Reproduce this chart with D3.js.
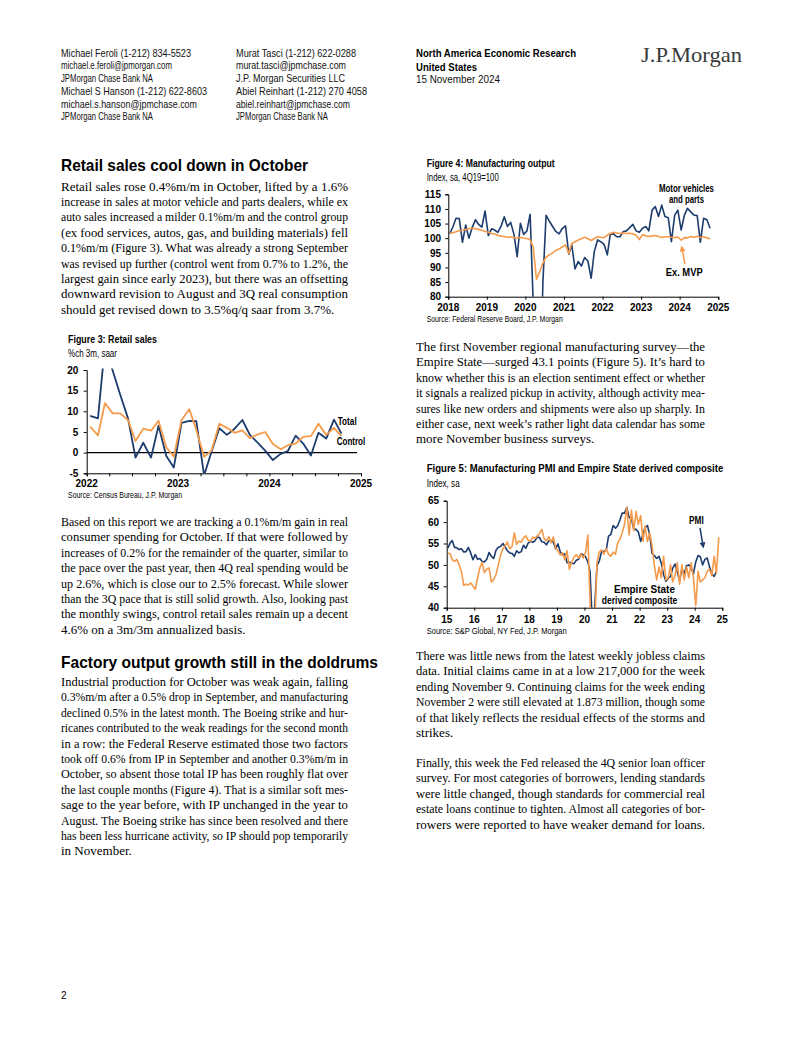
<!DOCTYPE html>
<html><head><meta charset="utf-8">
<script src="https://cdn.jsdelivr.net/npm/d3@7"></script>
<style>html,body{margin:0;padding:0;background:#fff}svg{display:block}</style>
</head><body>
<svg id="page" width="802" height="1037"></svg>
<script>
// ---------------- DATA ----------------
// Figure 3: Retail sales, %ch 3m saar, monthly from Jan 2022
const retailStart = [2022, 0];
const retailTotal = [8.9, 8.3, 26.0, 19.8, 14.0, 8.3, -1.2, 2.4, -1.2, 6.5, -0.8, -3.6,
  7.2, 7.7, 7.6, -5.5, 0.3, 5.9, 4.3, 5.8, 7.9, 4.3, 2.4, 0.5,
  -1.8, -0.3, 0.4, 4.1, 2.2, -0.7, 4.8, 3.4, 8.0, 4.6];
const retailControl = [6.3, 4.2, 12.0, 9.5, 9.5, 7.9, 2.8, 5.8, 5.3, 7.7, 1.3, -1.0,
  7.9, 10.5, 5.5, -1.0, 0.5, 7.0, 6.0, 4.8, 5.4, 3.5, 4.4, 5.0,
  2.1, 0.8, 1.8, 2.2, 3.8, 4.0, 7.0, 4.3, 6.0, 4.0];
const retailYTicks = [-5, 0, 5, 10, 15, 20];
const retailXLabels = ["2022", "2023", "2024", "2025"];

// Figure 4: Manufacturing output, index 4Q19=100, monthly from Jan 2018
const mfgStart = [2018, 0];
const mfgMotor = [101.5, 104.0, 106.8, 106.7, 98.6, 104.5, 100.0, 103.6, 106.3, 104.7, 103.8, 109.3,
  100.9, 103.2, 102.8, 102.0, 104.0, 107.3, 104.0, 105.4, 101.3, 93.7, 105.1, 101.3,
  102.4, 108.2, 78.0, 20.0, 42.0, 85.0, 107.8, 105.8, 104.0, 102.3, 101.5, 103.3,
  104.2, 94.5, 97.8, 89.5, 92.0, 90.5, 93.4, 92.2, 86.3, 95.5, 99.4, 98.8,
  97.9, 94.3, 101.3, 101.5, 100.5, 100.5, 102.2, 102.5, 103.6, 104.7, 102.5, 102.0,
  103.4, 104.0, 102.5, 109.6, 110.8, 107.4, 111.3, 107.4, 107.0, 98.8, 107.9, 109.6,
  102.8, 107.9, 110.2, 109.0, 107.9, 107.7, 98.6, 106.8, 106.3, 103.4];
const mfgExMVP = [101.7, 101.9, 102.2, 102.6, 102.7, 103.0, 103.2, 103.4, 103.2, 103.0, 102.7, 102.3,
  102.0, 101.6, 101.4, 101.0, 100.7, 100.6, 100.3, 100.4, 100.2, 100.0, 100.3, 100.0,
  99.9, 99.5, 97.0, 86.0, 88.5, 91.5, 93.5, 94.3, 95.0, 95.8, 96.3, 97.0,
  97.7, 94.8, 98.2, 98.8, 99.4, 99.8, 100.3, 99.8, 99.2, 99.9, 100.5, 100.3,
  100.2, 101.0, 101.6, 102.0, 101.8, 101.6, 101.8, 101.6, 101.7, 101.5, 101.0, 99.5,
  101.2, 100.8, 100.6, 100.8, 100.9, 100.6, 100.2, 100.5, 100.5, 100.3, 100.2, 100.4,
  99.3, 100.2, 100.1, 100.6, 100.3, 100.7, 100.2, 100.5, 100.1, 99.8];
const mfgYTicks = [80, 85, 90, 95, 100, 105, 110, 115];
const mfgXLabels = ["2018", "2019", "2020", "2021", "2022", "2023", "2024", "2025"];

// Figure 5: Manufacturing PMI and Empire State derived composite, monthly from Jan 2015
const pmiStart = [2015, 0];
const pmiValues = [53.9, 55.1, 55.7, 54.1, 54.0, 53.6, 53.8, 53.0, 53.1, 54.1, 52.8, 51.2,
  52.4, 51.3, 51.5, 50.8, 50.7, 51.3, 52.9, 52.0, 51.5, 53.4, 54.1, 54.3,
  55.0, 54.2, 53.3, 52.8, 52.7, 52.0, 53.3, 52.8, 53.1, 54.6, 53.9, 55.1,
  55.5, 55.3, 55.6, 56.5, 56.4, 55.4, 55.3, 54.7, 55.6, 55.7, 55.3, 53.8,
  54.9, 53.0, 52.4, 52.6, 50.5, 50.6, 50.4, 50.3, 51.1, 51.3, 52.6, 52.4,
  51.9, 50.7, 48.5, 36.1, 39.8, 49.8, 50.9, 53.1, 53.2, 53.4, 56.7, 57.1,
  59.2, 58.6, 59.1, 60.5, 62.1, 62.1, 63.4, 61.1, 60.7, 58.4, 58.3, 57.7,
  55.5, 57.3, 58.8, 59.2, 57.0, 52.7, 52.2, 51.5, 52.0, 50.4, 47.7, 46.2,
  46.9, 47.3, 49.2, 50.2, 48.4, 46.3, 49.0, 47.9, 49.8, 50.0, 49.4, 47.9,
  50.7, 52.2, 51.9, 50.0, 51.3, 51.6, 49.6, 47.9, 47.3, 48.5];
const empireValues = [52.8, 52.6, 51.2, 50.8, 51.3, 50.0, 48.5, 45.2, 45.5, 45.3, 45.8, 45.0,
  44.3, 47.0, 49.3, 50.6, 48.2, 49.0, 49.3, 46.0, 46.6, 47.7, 50.0, 52.3,
  53.8, 54.5, 55.3, 53.8, 54.2, 57.5, 54.8, 55.6, 55.3, 56.3, 56.8, 55.8,
  55.5, 56.5, 56.2, 56.8, 57.3, 58.3, 56.2, 55.6, 56.6, 55.2, 56.5, 54.0,
  53.3, 52.3, 52.8, 51.2, 53.3, 49.0, 50.6, 51.8, 52.4, 51.6, 52.6, 51.6,
  52.8, 57.0, 41.5, 25.0, 35.0, 50.5, 53.0, 53.5, 52.5, 53.8, 52.5, 52.0,
  53.0, 52.5, 55.0, 56.0, 57.5, 59.5, 63.5, 57.0, 62.8, 58.0, 62.5, 59.5,
  61.5, 55.5, 59.0, 55.5, 57.5, 54.5, 50.0, 46.5, 49.5, 47.0, 52.0, 46.5,
  47.0, 50.0, 46.0, 47.5, 50.5, 45.5, 50.0, 46.5, 49.5, 47.0, 50.5, 47.0,
  40.5, 48.5, 46.0, 46.5, 47.0, 48.5, 49.0, 47.5, 52.0, 48.0, 56.5];
const pmiYTicks = [40, 45, 50, 55, 60, 65];
const pmiXLabels = ["15", "16", "17", "18", "19", "20", "21", "22", "23", "24", "25"];

// ---------------- STYLE ----------------
const NAVY = "#1d3c6e", ORANGE = "#f49a4a";
const NARROW = "'Liberation Sans Narrow','Arial Narrow','Liberation Sans',Arial,sans-serif";
const SANS = "'Liberation Sans',Arial,Helvetica,sans-serif";
const SERIF = "'Liberation Serif','Times New Roman',Times,serif";
const BODY_SIZE = 13;

const svg = d3.select("#page");
svg.append("rect").attr("width", 802).attr("height", 1037).attr("fill", "#fff");

function txt(x, y, s, o = {}) {
  const t = svg.append("text").attr("x", x).attr("y", y).text(s)
    .attr("font-family", o.family || NARROW)
    .attr("font-size", o.size || 10)
    .attr("font-weight", o.weight || "normal")
    .attr("fill", o.fill || "#000")
    .attr("text-anchor", o.anchor || "start");
  if (o.len) t.attr("textLength", o.len).attr("lengthAdjust", "spacingAndGlyphs");
  return t;
}

function months(start, n) {
  return d3.range(n).map(i => new Date(start[0], start[1] + i, 15));
}

// ---------------- HEADER ----------------
const hdr1 = ["Michael Feroli  (1-212) 834-5523", "michael.e.feroli@jpmorgan.com", "JPMorgan Chase Bank NA",
  "Michael S Hanson  (1-212) 622-8603", "michael.s.hanson@jpmchase.com", "JPMorgan Chase Bank NA"];
const hdr1w = [130, 111, 92, 146, 136, 92];
const hdr2 = ["Murat Tasci  (1-212) 622-0288", "murat.tasci@jpmchase.com", "J.P. Morgan Securities LLC",
  "Abiel Reinhart  (1-212) 270 4058", "abiel.reinhart@jpmchase.com", "JPMorgan Chase Bank NA"];
const hdr2w = [120, 110, 109, 131, 114, 92];
const hdrY = [56.5, 69, 81.5, 95, 107.5, 120];
hdr1.forEach((s, i) => txt(61, hdrY[i], s, { size: 11, len: hdr1w[i], fill: "#111" }));
hdr2.forEach((s, i) => txt(236, hdrY[i], s, { size: 11, len: hdr2w[i], fill: "#111" }));
txt(416, 56.5, "North America Economic Research", { size: 11, weight: "bold", len: 160 });
txt(416, 70.5, "United States", { size: 11, weight: "bold", len: 61 });
txt(416, 83, "15 November 2024", { size: 11, len: 84, fill: "#111" });
txt(641, 61.5, "J.P.Morgan", { family: SERIF, size: 22, len: 101, fill: "#3a3a3a" });

// ---------------- HEADINGS & BODY ----------------
txt(61, 171, "Retail sales cool down in October", { family: SANS, size: 16.5, weight: "bold", len: 247 });
txt(61, 668, "Factory output growth still in the doldrums", { family: SANS, size: 16.5, weight: "bold", len: 317 });

const paragraphs = [
 { x: 61, y: 190.5, w: 287, lines: [
  "Retail sales rose 0.4%m/m in October, lifted by a 1.6%",
  "increase in sales at motor vehicle and parts dealers, while ex",
  "auto sales increased a milder 0.1%m/m and the control group",
  "(ex food services, autos, gas, and building materials) fell",
  "0.1%m/m (Figure 3). What was already a strong September",
  "was revised up further (control went from 0.7% to 1.2%, the",
  "largest gain since early 2023), but there was an offsetting",
  "downward revision to August and 3Q real consumption",
  "should get revised down to 3.5%q/q saar from 3.7%."] },
 { x: 61, y: 526, w: 287, lines: [
  "Based on this report we are tracking a 0.1%m/m gain in real",
  "consumer spending for October. If that were followed by",
  "increases of 0.2% for the remainder of the quarter, similar to",
  "the pace over the past year, then 4Q real spending would be",
  "up 2.6%, which is close our to 2.5% forecast. While slower",
  "than the 3Q pace that is still solid growth. Also, looking past",
  "the monthly swings, control retail sales remain up a decent",
  "4.6% on a 3m/3m annualized basis."] },
 { x: 61, y: 686, w: 287, lines: [
  "Industrial production for October was weak again, falling",
  "0.3%m/m after a 0.5% drop in September, and manufacturing",
  "declined 0.5% in the latest month. The Boeing strike and hur-",
  "ricanes contributed to the weak readings for the second month",
  "in a row: the Federal Reserve estimated those two factors",
  "took off 0.6% from IP in September and another 0.3%m/m in",
  "October, so absent those total IP has been roughly flat over",
  "the last couple months (Figure 4). That is a similar soft mes-",
  "sage to the year before, with IP unchanged in the year to",
  "August. The Boeing strike has since been resolved and there",
  "has been less hurricane activity, so IP should pop temporarily",
  "in November."] },
 { x: 416, y: 351, w: 289, lines: [
  "The first November regional manufacturing survey\u2014the",
  "Empire State\u2014surged 43.1 points (Figure 5). It\u2019s hard to",
  "know whether this is an election sentiment effect or whether",
  "it signals a realized pickup in activity, although activity mea-",
  "sures like new orders and shipments were also up sharply. In",
  "either case, next week\u2019s rather light data calendar has some",
  "more November business surveys."] },
 { x: 416, y: 660, w: 289, lines: [
  "There was little news from the latest weekly jobless claims",
  "data. Initial claims came in at a low 217,000 for the week",
  "ending November 9. Continuing claims for the week ending",
  "November 2 were still elevated at 1.873 million, though some",
  "of that likely reflects the residual effects of the storms and",
  "strikes."] },
 { x: 416, y: 767, w: 289, lines: [
  "Finally, this week the Fed released the 4Q senior loan officer",
  "survey. For most categories of borrowers, lending standards",
  "were little changed, though standards for commercial real",
  "estate loans continue to tighten. Almost all categories of bor-",
  "rowers were reported to have weaker demand for loans."] }
];
// justified lines: widen word gaps when short, squeeze evenly when long
paragraphs.forEach(p => {
  p.lines.forEach((s, i) => {
    const t = svg.append("text").attr("x", p.x).attr("y", p.y + i * 15.4).text(s)
      .attr("font-family", SERIF).attr("font-size", BODY_SIZE).attr("fill", "#000");
    if (i === p.lines.length - 1) return;
    const w = t.node().getComputedTextLength();
    const spaces = (s.match(/ /g) || []).length;
    if (w <= p.w && spaces > 0) {
      t.attr("word-spacing", ((p.w - w) / spaces).toFixed(3));
    } else {
      t.attr("textLength", p.w).attr("lengthAdjust", "spacingAndGlyphs");
    }
  });
});

txt(61, 999, "2", { family: SANS, size: 10 });

// ---------------- CHART HELPERS ----------------
function styleAxis(g) {
  g.select(".domain").attr("stroke", "#000").attr("stroke-width", 1);
  g.selectAll(".tick line").attr("stroke", "#000");
  g.selectAll("text").attr("font-family", NARROW).attr("font-size", 10)
    .attr("font-weight", "bold").attr("fill", "#000");
}

function lineChart(cfg) {
  const { x, y, series, clipId, yTicks, xLabels, xLabelDates, xTickDates, labelY, yLabelRight } = cfg;
  const [x0, x1] = x.range();
  const [yb, yt] = y.range();
  svg.append("clipPath").attr("id", clipId).append("rect")
    .attr("x", x0).attr("y", yt - 1.5).attr("width", x1 - x0 + 2).attr("height", yb - yt + 1.5);
  const gy = svg.append("g").attr("transform", `translate(${x0},0)`)
    .call(d3.axisLeft(y).tickValues(yTicks).tickSize(3).tickPadding(x0 - 3 - yLabelRight).tickFormat(d => String(d)));
  styleAxis(gy);
  const gx = svg.append("g").attr("transform", `translate(0,${yb})`)
    .call(d3.axisBottom(x).tickValues(xTickDates).tickSize(3).tickFormat(""));
  styleAxis(gx);
  xLabels.forEach((s, i) => txt(x(xLabelDates[i]), labelY, s, { size: 10, weight: "bold", anchor: "middle" }));
  if (cfg.zeroEnd !== undefined) {
    svg.append("line").attr("x1", x0).attr("x2", cfg.zeroEnd).attr("y1", y(0)).attr("y2", y(0))
      .attr("stroke", "#000").attr("stroke-width", 1.2);
  }
  const g = svg.append("g").attr("clip-path", `url(#${clipId})`);
  series.forEach(s => {
    g.append("path").datum(s.values.map((v, i) => [s.dates[i], v]))
      .attr("fill", "none").attr("stroke", s.color).attr("stroke-width", s.width || 1.6)
      .attr("stroke-linejoin", "round")
      .attr("d", d3.line().x(d => x(d[0])).y(d => y(d[1])));
  });
}

function arrow(xa, ya, xb, yb, color) {
  const ang = Math.atan2(yb - ya, xb - xa);
  const L = 6, Wd = 3;
  svg.append("line").attr("x1", xa).attr("y1", ya)
    .attr("x2", xb - Math.cos(ang) * L * 0.8).attr("y2", yb - Math.sin(ang) * L * 0.8)
    .attr("stroke", color).attr("stroke-width", 1.5);
  const p1 = [xb - Math.cos(ang) * L + Math.sin(ang) * Wd, yb - Math.sin(ang) * L - Math.cos(ang) * Wd];
  const p2 = [xb - Math.cos(ang) * L - Math.sin(ang) * Wd, yb - Math.sin(ang) * L + Math.cos(ang) * Wd];
  svg.append("path").attr("d", `M${xb},${yb}L${p1[0]},${p1[1]}L${p2[0]},${p2[1]}Z`).attr("fill", color);
}

// ---------------- FIGURE 3 ----------------
txt(68, 343.3, "Figure 3: Retail sales", { size: 11, weight: "bold", len: 89 });
txt(68, 357, "%ch 3m, saar", { size: 10, len: 49 });
{
  const x = d3.scaleTime().domain([new Date(2022, 0, 1), new Date(2025, 0, 1)]).range([86.7, 361]);
  const y = d3.scaleLinear().domain([-5, 20]).range([473.3, 370]);
  const d = months(retailStart, retailTotal.length);
  lineChart({
    x, y, clipId: "c3", yTicks: retailYTicks, yLabelRight: 78.3,
    xLabels: retailXLabels, xLabelDates: retailXLabels.map(s => new Date(+s, 0, 1)),
    xTickDates: d3.range(13).map(i => new Date(2022, i * 3, 1)), labelY: 487,
    zeroEnd: 357,
    series: [{ values: retailTotal, dates: d, color: NAVY, width: 1.8 },
             { values: retailControl, dates: d, color: ORANGE, width: 1.8 }]
  });
  txt(337.7, 425, "Total", { size: 10.5, weight: "bold", len: 19 });
  txt(336.7, 445, "Control", { size: 10.5, weight: "bold", len: 28.5 });
}
txt(68, 498, "Source: Census Bureau, J.P. Morgan", { size: 8.5, len: 114 });

// ---------------- FIGURE 4 ----------------
txt(426.7, 167, "Figure 4: Manufacturing output", { size: 11, weight: "bold", len: 128 });
txt(426.7, 181, "Index, sa, 4Q19=100", { size: 10, len: 72 });
{
  const x = d3.scaleTime().domain([new Date(2018, 0, 1), new Date(2025, 0, 1)]).range([448.3, 718.3]);
  const y = d3.scaleLinear().domain([80, 115]).range([296.7, 194.3]);
  const d = months(mfgStart, mfgMotor.length);
  lineChart({
    x, y, clipId: "c4", yTicks: mfgYTicks, yLabelRight: 441,
    xLabels: mfgXLabels, xLabelDates: mfgXLabels.map(s => new Date(+s, 0, 1)),
    xTickDates: mfgXLabels.map(s => new Date(+s, 0, 1)), labelY: 310.5,
    series: [{ values: mfgMotor, dates: d, color: NAVY, width: 1.6 },
             { values: mfgExMVP, dates: d, color: ORANGE, width: 1.6 }]
  });
  txt(686.5, 192, "Motor vehicles", { size: 10, weight: "bold", anchor: "middle", len: 55 });
  txt(686.5, 202.5, "and parts", { size: 10, weight: "bold", anchor: "middle", len: 35 });
  txt(665.7, 275.5, "Ex. MVP", { size: 10, weight: "bold", len: 37 });
  arrow(685, 264, 681.5, 245.5, ORANGE);
}
txt(426.7, 321.5, "Source: Federal Reserve Board, J.P. Morgan", { size: 8.5, len: 136 });

// ---------------- FIGURE 5 ----------------
txt(426.7, 471.7, "Figure 5: Manufacturing PMI and Empire State derived composite", { size: 11, weight: "bold", len: 296.6 });
txt(426.7, 486.7, "Index, sa", { size: 10, len: 33 });
{
  const x = d3.scaleTime().domain([new Date(2015, 0, 1), new Date(2025, 0, 1)]).range([446.7, 722.3]);
  const y = d3.scaleLinear().domain([40, 65]).range([607.7, 500.7]);
  lineChart({
    x, y, clipId: "c5", yTicks: pmiYTicks, yLabelRight: 439,
    xLabels: pmiXLabels, xLabelDates: pmiXLabels.map(s => new Date(2000 + +s, 0, 1)),
    xTickDates: pmiXLabels.map(s => new Date(2000 + +s, 0, 1)), labelY: 622.5,
    series: [{ values: pmiValues, dates: months(pmiStart, pmiValues.length), color: NAVY, width: 1.6 },
             { values: empireValues, dates: months(pmiStart, empireValues.length), color: ORANGE, width: 1.6 }]
  });
  txt(689, 523.5, "PMI", { size: 10, weight: "bold", len: 14.7 });
  arrow(700, 528, 703.5, 548.5, NAVY);
  txt(644.5, 592.5, "Empire State", { size: 10, weight: "bold", anchor: "middle", len: 61 });
  txt(639.5, 604, "derived composite", { size: 10, weight: "bold", anchor: "middle", len: 75.6 });
}
txt(426.7, 633.5, "Source: S&P Global, NY Fed, J.P. Morgan", { size: 8.5, len: 140 });
</script>
</body></html>
